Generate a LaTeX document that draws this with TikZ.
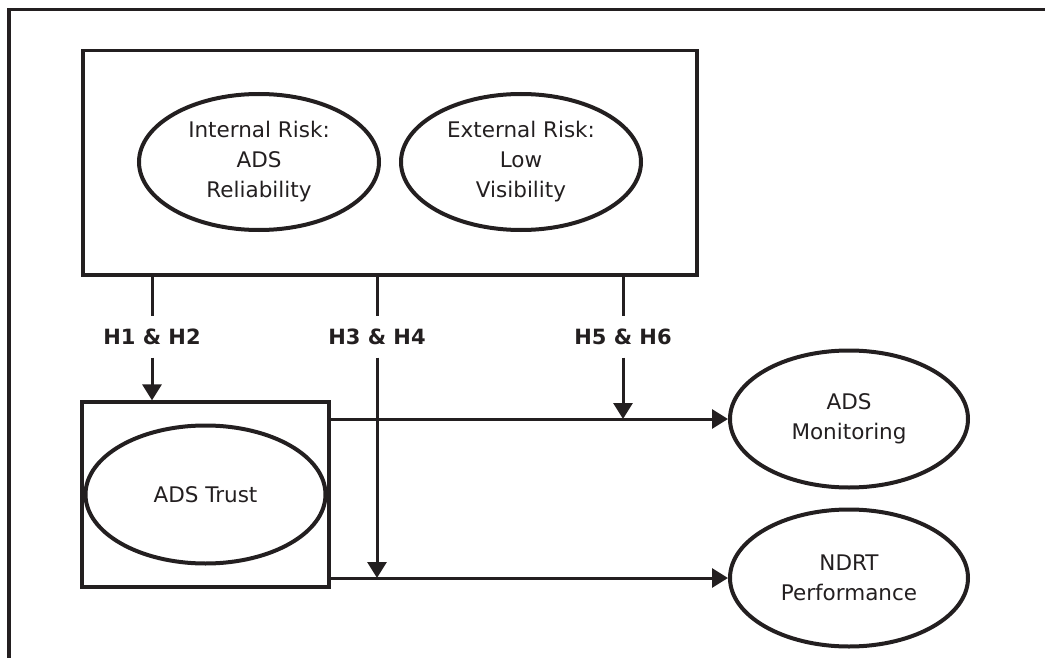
\documentclass[tikz,border=0pt]{standalone}
\usepackage{fontspec}
\setmainfont{DejaVu Sans}
\usetikzlibrary{arrows.meta, positioning, shapes.geometric}
\definecolor{ink}{RGB}{35,31,32}

\begin{document}
\begin{tikzpicture}[
    x=1pt, y=-1pt,
    font=\fontsize{21.5}{30}\selectfont,
    block/.style = {draw=ink, line width=3.2pt, inner sep=0pt},
    oval/.style = {draw=ink, ellipse, line width=4pt, inner sep=0pt, align=center, text=ink, minimum width=238pt, minimum height=137pt},
    hyp/.style = {font=\fontsize{21}{29}\selectfont\bfseries, text=ink, inner sep=0pt, minimum height=41pt},
    wire/.style = {draw=ink, line width=3pt},
    arrow/.style = {wire, -{Triangle[length=16pt, width=19pt]}}
  ]
  \useasboundingbox (0,0) rectangle (1045,658);

  % Open frame round the figure
  \draw[ink, line width=3.5pt] (9,658) -- (9,9.5) -- (1045,9.5);

  % Risk block with its two factors
  \node[block, minimum width=614pt, minimum height=224.5pt] (risk) at (390,162.75) {};
  \node[oval, minimum width=240pt, minimum height=136pt] (internal) at (259,162) {Internal Risk:\\ADS\\Reliability};
  \node[oval, minimum width=240pt, minimum height=136pt] (external) at (521,162) {External Risk:\\Low\\Visibility};

  % Trust block
  \node[block, minimum width=247pt, minimum height=185pt] (trustbox) at (205.5,494.5) {};
  \node[oval, minimum width=240pt, minimum height=138pt] (trust) at (trustbox.center) {ADS Trust};

  % Outcomes on the right
  \node[oval] (monitor) at (849,419) {ADS\\Monitoring};
  \node[oval, below=18pt of monitor] (ndrt) {NDRT\\Performance};

  % Hypothesis labels
  \node[hyp] (h12) at (152,337) {H1 \& H2};
  \node[hyp] (h34) at (377,337) {H3 \& H4};
  \node[hyp] (h56) at (623,337) {H5 \& H6};

  % H1 & H2 into trust
  \draw[wire] (risk.south -| h12) -- (h12.north);
  \draw[arrow] (h12.south) -- (h12.south |- trustbox.north);

  % H3 & H4 onto the lower path
  \draw[wire] (risk.south -| h34) -- (h34.north);
  \draw[arrow] (h34.south) -- (h34.south |- ndrt.west);

  % H5 & H6 onto the upper path
  \draw[wire] (risk.south -| h56) -- (h56.north);
  \draw[arrow] (h56.south) -- (h56.south |- monitor.west);

  % Trust to outcomes
  \draw[arrow] (monitor.west -| trustbox.east) -- (monitor.west);
  \draw[arrow] (ndrt.west -| trustbox.east) -- (ndrt.west);

\end{tikzpicture}
\end{document}
